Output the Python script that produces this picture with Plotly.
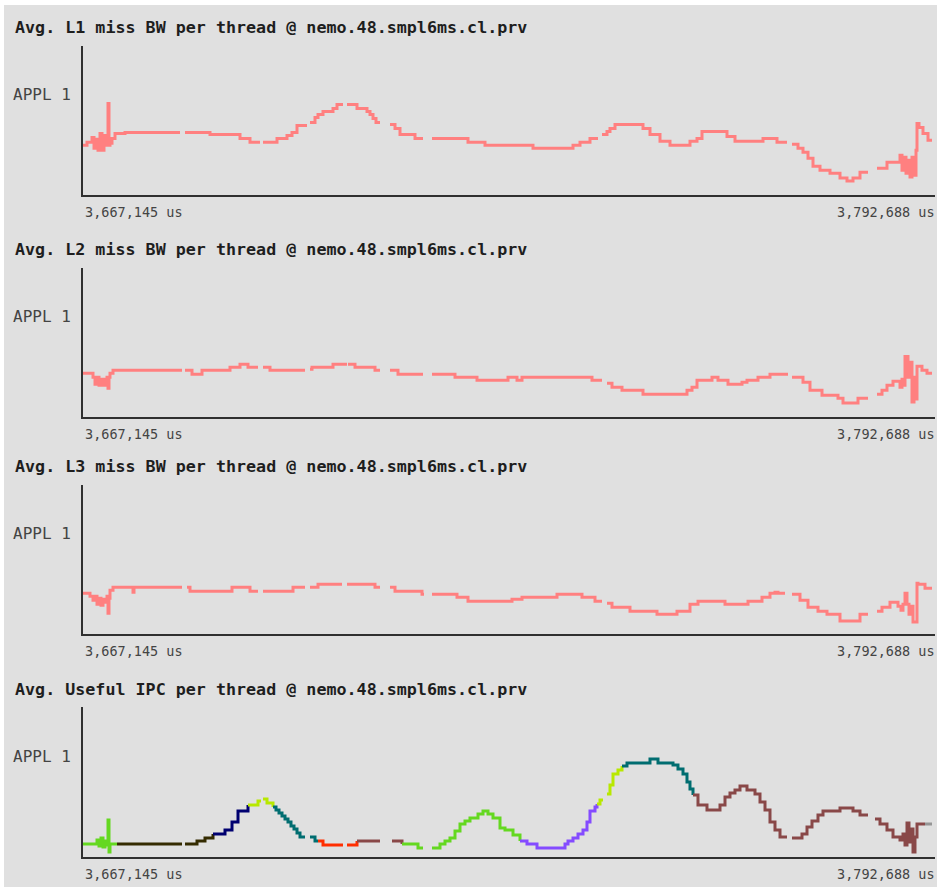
import plotly.graph_objects as go

# ---------------------------------------------------------------- data
T_START = 3667145          # window start (us)
T_END = 3792688            # window end (us)

TITLES = [
    "Avg. L1 miss BW per thread @ nemo.48.smpl6ms.cl.prv",
    "Avg. L2 miss BW per thread @ nemo.48.smpl6ms.cl.prv",
    "Avg. L3 miss BW per thread @ nemo.48.smpl6ms.cl.prv",
    "Avg. Useful IPC per thread @ nemo.48.smpl6ms.cl.prv",
]
ROW_LABEL = "APPL 1"
TICK_LABELS = ["3,667,145 us", "3,792,688 us"]

# (elapsed us since window start, relative value); None = no sample
l1_samples = [
    (0, 50), (589, 53), (1326, 58), (1621, 47), (1916, 56), (2210, 45), (2505, 62),
    (2800, 45), (3094, 60), (3242, 50), (3684, 92), (3831, 50), (3978, 52), (4273, 57),
    (4715, 62), (6189, 63), (14293, None), (15030, 63), (18713, 61), (23134, 57),
    (24607, 53), (26081, None), (26523, 53), (28586, 57), (30059, 60), (30796, 63),
    (31533, 70), (33006, None), (33448, 73), (34185, 78), (34627, 81), (35364, 84),
    (36838, 87), (37427, 91), (38311, None), (38900, 91), (40374, 87), (41847, 84),
    (42289, 81), (42732, 77), (43174, 73), (43763, None), (45236, 71), (45973, 67),
    (46710, 61), (48920, 57), (50099, None), (51425, 57), (56730, 53), (59235, 50),
    (66308, 47), (72202, 50), (73233, 53), (74706, 57), (75885, None), (76475, 61),
    (77211, 64), (77653, 67), (78390, 71), (82516, 67), (83547, 61), (85021, 54),
    (86494, 50), (89441, 54), (90473, 57), (91210, 64), (94893, 59), (96072, 54),
    (100198, 57), (102261, 53), (103734, None), (104471, 51), (105355, 47),
    (106092, 43), (106829, 37), (107566, 29), (108597, 25), (110070, 22),
    (111544, 17), (112575, 14), (113460, 17), (114491, 23), (115670, None),
    (116996, 27), (118469, 33), (120385, 40), (120680, 25), (120974, 38),
    (121269, 22), (121564, 35), (121858, 18), (122153, 38), (122448, 20),
    (122743, 45), (122890, 72), (123185, 68), (123774, 62), (124511, 55), (125100, 55),
]

l2_samples = [
    (0, 44), (1474, 40), (1768, 33), (2063, 40), (2358, 32), (2652, 38), (2947, 32),
    (3242, 38), (3536, 40), (3684, 29), (3831, 40), (3978, 44), (4421, 47),
    (14588, None), (15030, 47), (16061, 43), (17535, 47), (21660, 50), (23134, 53),
    (24313, 50), (25786, None), (26523, 50), (27554, 47), (32712, None), (33448, 48),
    (33743, 50), (36838, 53), (38900, None), (39048, 53), (40079, 50), (43026, 47),
    (43763, None), (45236, 47), (46415, 43), (50099, None), (51425, 43), (54814, 40),
    (58056, 37), (62624, 40), (63950, 37), (64687, 40), (75001, 37), (76475, None),
    (77211, 34), (77948, 30), (79422, 27), (82516, 23), (88999, 27), (89736, 30),
    (90473, 37), (92683, 40), (93567, 37), (95041, 33), (97104, 35), (97840, 37),
    (99461, 40), (101229, 43), (103882, None), (104471, 40), (106092, 35),
    (107123, 27), (108892, 22), (111249, 19), (111986, 14), (114196, 19),
    (115670, None), (116996, 23), (117733, 27), (118469, 32), (119354, 36),
    (120385, 30), (120680, 38), (120974, 32), (121122, 61), (121564, 40),
    (121858, 55), (122153, 15), (122448, 40), (122743, 18), (122890, 51),
    (123625, 47), (124363, 44), (125100, 44),
]

l3_samples = [
    (0, 41), (1031, 38), (1474, 34), (1768, 38), (2063, 30), (2358, 36), (2652, 29),
    (2947, 35), (3242, 32), (3536, 38), (3684, 21), (3831, 36), (3978, 44), (4421, 47),
    (7368, 42), (7515, 47), (14588, None), (15324, 47), (15766, 43), (21955, 47),
    (24607, 43), (25786, None), (26523, 43), (30944, 47), (32712, None), (33448, 47),
    (34627, 50), (38164, None), (38900, 50), (43026, 47), (43763, None), (45236, 47),
    (45973, 43), (49952, 40), (50246, None), (51425, 40), (55109, 37), (56730, 33),
    (63213, 35), (64687, 37), (69844, 40), (73528, 37), (75443, 33), (76475, None),
    (77211, 31), (77948, 27), (80600, 23), (84579, 20), (87526, 23), (89441, 30),
    (90620, 33), (94599, 30), (97988, 33), (100051, 37), (101229, 41), (101966, 42),
    (102408, 41), (103440, None), (104471, 40), (105650, 34), (106829, 27),
    (108302, 23), (109628, 20), (111544, 13), (114491, 20), (115670, None),
    (116996, 23), (117733, 27), (118911, 32), (120090, 28), (120532, 24),
    (120827, 30), (121122, 41), (121416, 30), (121711, 20), (122006, 28),
    (122301, 12), (122890, 51), (123037, 50), (124069, 46), (125100, 46),
]

ipc_samples = [
    (0, 13), (2063, 17), (2358, 11), (2652, 19), (2947, 10), (3242, 16), (3536, 12),
    (3684, 37), (3831, 5), (3978, 13), (5010, 13), (14588, None), (15030, 13),
    (16798, 16), (17977, 19), (19156, 23), (20924, 27), (21955, 35), (22839, 46),
    (24313, 52), (25786, 56), (26228, None), (26523, 58), (27112, 54), (27997, 50),
    (28439, 47), (28881, 44), (29323, 41), (29765, 38), (30206, 35), (30648, 31),
    (31091, 28), (31533, 24), (31975, 20), (32712, None), (33448, 20), (34185, 16),
    (34627, 16), (35364, 12), (38311, None), (38900, 12), (40374, 16), (43763, None),
    (45531, 16), (47005, 13), (49362, 9), (50099, None), (51425, 9), (52604, 13),
    (53341, 16), (54077, 19), (54814, 26), (55551, 33), (56288, 36), (57024, 39),
    (58203, 43), (58940, 46), (59677, 43), (60414, 39), (61445, 29), (62182, 27),
    (63361, 22), (64392, 16), (65423, 13), (66897, 9), (71023, 13), (71465, 16),
    (72202, 19), (72938, 23), (73675, 27), (74264, 35), (74706, 46), (75443, 50),
    (75738, 53), (76180, 57), (76622, None), (77211, 63), (77653, 72), (78096, 83),
    (78832, 87), (79422, 91), (80158, 94), (83547, 98), (84726, 94), (86937, 92),
    (87673, 88), (88410, 83), (88999, 75), (89441, 68), (89884, 62), (90620, 52),
    (91946, 47), (93862, 52), (94599, 60), (95335, 64), (96072, 67), (96809, 71),
    (97840, 67), (99019, 63), (99756, 55), (100493, 47), (101229, 35), (101966, 27),
    (102703, 20), (103734, None), (104471, 19), (105945, 23), (106682, 30),
    (107418, 36), (108302, 42), (109039, 46), (111544, 49), (113460, 46),
    (114491, 42), (115670, None), (116701, 38), (117438, 33), (118469, 27),
    (119354, 20), (120385, 17), (120827, 23), (121122, 12), (121416, 34),
    (121711, 15), (122006, 28), (122301, 5), (122595, 20), (122890, 33),
    (124069, 33), (125100, 33),
]

# code region colouring of the IPC timeline: (elapsed us where it starts, colour)
ipc_regions = [
    (0, "rgb(100,216,32)"),
    (5010, "rgb(52,43,0)"),
    (19156, "rgb(0,0,112)"),
    (24313, "rgb(184,232,0)"),
    (27997, "rgb(0,109,112)"),
    (34627, "rgb(255,46,0)"),
    (40374, "rgb(137,72,72)"),
    (47005, "rgb(100,216,32)"),
    (64392, "rgb(132,75,255)"),
    (75738, "rgb(184,232,0)"),
    (79422, "rgb(0,109,112)"),
    (89884, "rgb(137,72,72)"),
    (124069, "rgb(150,150,150)"),
]

# ---------------------------------------------------------------- layout
W, H = 937, 887
BG = "#e0e0e0"
LINE_PINK = "#ff8080"
AXIS_COLOR = "#303030"
X_LEFT, X_RIGHT = 83, 935
PANEL_TOP = [46, 268, 485, 707]
PANEL_BOTTOM = [195, 417, 634, 857]
TITLE_Y = [27, 249, 466, 689]
Y_MAX = 150
LABEL_VALUE = 101


def fx(px):
    return px / W


def fy(px):
    return (H - px) / H


def step_xy(samples):
    xs, ys = [], []
    prev = None
    for t, v in samples:
        x = T_START + t
        if v is None:
            xs.append(x)
            ys.append(prev)
            xs.append(x)
            ys.append(None)
        else:
            xs.append(x)
            ys.append(v)
            prev = v
    return xs, ys


fig = go.Figure()

pink_series = [l1_samples, l2_samples, l3_samples]
for i, s in enumerate(pink_series):
    xs, ys = step_xy(s)
    fig.add_trace(go.Scatter(
        x=xs, y=ys, mode="lines", line=dict(color=LINE_PINK, width=3, shape="hv"),
        connectgaps=False, hoverinfo="skip", showlegend=False,
        xaxis="x" if i == 0 else f"x{i + 1}", yaxis="y" if i == 0 else f"y{i + 1}",
    ))

# IPC: one trace per coloured region
xs, ys = step_xy(ipc_samples)
bounds = [T_START + r[0] for r in ipc_regions] + [T_START + ipc_samples[-1][0]]
for k, (_, col) in enumerate(ipc_regions):
    lo, hi = bounds[k], bounds[k + 1]
    idx = [j for j, x in enumerate(xs) if lo <= x <= hi]
    fig.add_trace(go.Scatter(
        x=[xs[j] for j in idx], y=[ys[j] for j in idx], mode="lines",
        line=dict(color=col, width=3, shape="hv"), connectgaps=False,
        hoverinfo="skip", showlegend=False, xaxis="x4", yaxis="y4",
    ))

layout = dict(
    width=W, height=H, margin=dict(l=0, r=0, t=0, b=0),
    paper_bgcolor="white", plot_bgcolor="rgba(0,0,0,0)",
    shapes=[dict(type="rect", xref="paper", yref="paper", x0=fx(4), x1=1,
                 y0=0, y1=fy(5), fillcolor=BG, line=dict(width=0), layer="below")],
    annotations=[],
)

for i in range(4):
    sx = "" if i == 0 else str(i + 1)
    layout[f"xaxis{sx}"] = dict(
        domain=[fx(X_LEFT), fx(X_RIGHT)], range=[T_START, T_END], anchor=f"y{sx}",
        showline=True, linecolor=AXIS_COLOR, linewidth=2, showgrid=False,
        zeroline=False, showticklabels=False, ticks="", fixedrange=True,
    )
    layout[f"yaxis{sx}"] = dict(
        domain=[fy(PANEL_BOTTOM[i]), fy(PANEL_TOP[i])], range=[0, Y_MAX],
        anchor=f"x{sx}", showline=True, linecolor=AXIS_COLOR, linewidth=2,
        showgrid=False, zeroline=False, showticklabels=False, ticks="", fixedrange=True,
    )
    layout["annotations"] += [
        dict(text=TITLES[i], xref="paper", yref="paper", x=fx(13), y=fy(TITLE_Y[i]),
             xanchor="left", yanchor="middle", showarrow=False,
             font=dict(family="DejaVu Sans Mono", size=16.7, color="#1e1e1e", weight="bold")),
        dict(text=ROW_LABEL, xref="paper", yref=f"y{sx}", x=fx(73), y=LABEL_VALUE,
             xanchor="right", yanchor="middle", showarrow=False,
             font=dict(family="DejaVu Sans Mono", size=16, color="#444444")),
        dict(text=TICK_LABELS[0], xref="paper", yref="paper", x=fx(X_LEFT),
             y=fy(PANEL_BOTTOM[i] + 17), xanchor="left", yanchor="middle", showarrow=False,
             font=dict(family="DejaVu Sans Mono", size=13.5, color="#444444")),
        dict(text=TICK_LABELS[1], xref="paper", yref="paper", x=fx(X_RIGHT + 2),
             y=fy(PANEL_BOTTOM[i] + 17), xanchor="right", yanchor="middle", showarrow=False,
             font=dict(family="DejaVu Sans Mono", size=13.5, color="#444444")),
    ]

fig.update_layout(**layout)
fig.write_html("out.html")
